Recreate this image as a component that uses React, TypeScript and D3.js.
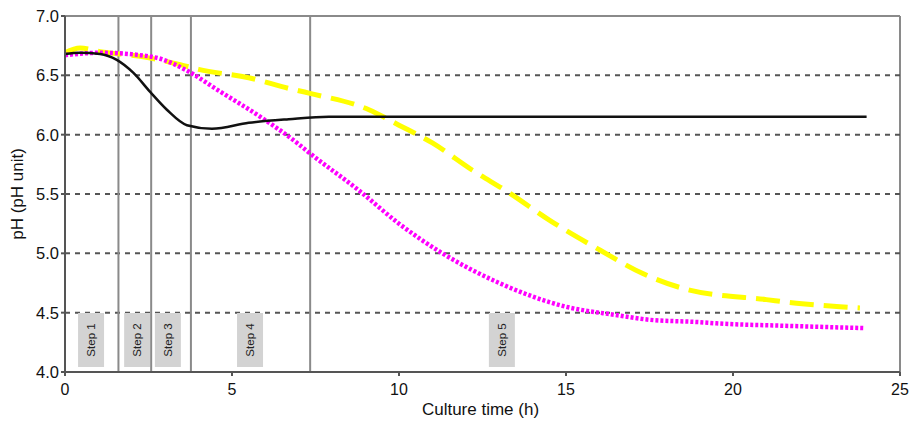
import React from "react";
import * as d3 from "d3";

const blackTime = [0, 0.45, 1.05, 1.55, 2.05, 2.55, 3.05, 3.65, 4.4, 5.5, 6.7, 7.9, 10, 15, 20, 24];
const blackPH = [6.68, 6.69, 6.68, 6.63, 6.52, 6.36, 6.21, 6.08, 6.05, 6.1, 6.13, 6.15, 6.15, 6.15, 6.15, 6.15];

const yellowTime = [0, 0.45, 1.05, 2.25, 3.45, 4.0, 5.5, 6.7, 7.3, 9.1, 10, 11, 12.2, 13.3, 14.5, 16, 17.3, 18.7, 21, 21.9, 23.2, 23.8];
const yellowPH = [6.69, 6.73, 6.7, 6.66, 6.59, 6.55, 6.48, 6.39, 6.35, 6.21, 6.08, 5.93, 5.7, 5.51, 5.28, 5.03, 4.83, 4.69, 4.61, 4.58, 4.55, 4.54];

const magentaTime = [0, 1.05, 2.25, 2.85, 3.65, 4.55, 5.85, 6.95, 7.3, 8.8, 10, 11.3, 13, 15, 16.5, 17.5, 19, 19.5, 21.5, 23.9];
const magentaPH = [6.67, 6.69, 6.67, 6.64, 6.54, 6.38, 6.15, 5.93, 5.85, 5.53, 5.25, 5.0, 4.75, 4.55, 4.48, 4.44, 4.42, 4.41, 4.39, 4.37];

const stepBoundaries = [1.6, 2.58, 3.77, 7.34];
const stepLabels = ["Step 1", "Step 2", "Step 3", "Step 4", "Step 5"];
const stepCenters = [0.78, 2.16, 3.08, 5.54, 13.08];

const xTicks = [0, 5, 10, 15, 20, 25];
const yTicks = [4.0, 4.5, 5.0, 5.5, 6.0, 6.5, 7.0];
const gridTicks = [4.5, 5.0, 5.5, 6.0, 6.5];

const xLabel = "Culture time (h)";
const yLabel = "pH (pH unit)";

const W = 910;
const H = 422;
const left = 65;
const right = 900;
const top = 16;
const bottom = 372;

export default function App() {
  const x = d3.scaleLinear().domain([0, 25]).range([left, right]);
  const y = d3.scaleLinear().domain([4, 7]).range([bottom, top]);
  const mkLine = (ts: number[], vs: number[]) =>
    d3
      .line<number>()
      .x((_, i) => x(ts[i]))
      .y((v) => y(v))
      .curve(d3.curveMonotoneX)(vs) as string;

  const font = "'Liberation Sans', Arial, sans-serif";
  return (
    <svg
      width={W}
      height={H}
      style={{ position: "absolute", left: 0, top: 0, background: "#fff" }}
      fontFamily={font}
    >
      {/* frame */}
      <line x1={left} x2={right} y1={top} y2={top} stroke="#8a8a8a" strokeWidth={2} />
      <line x1={right} x2={right} y1={top} y2={bottom} stroke="#8a8a8a" strokeWidth={2} />
      {/* grid */}
      {gridTicks.map((t) => (
        <line
          key={t}
          x1={left}
          x2={right}
          y1={y(t)}
          y2={y(t)}
          stroke="#555"
          strokeWidth={2}
          strokeDasharray="5 5"
        />
      ))}
      {/* step labels */}
      {stepCenters.map((c, i) => (
        <g key={i}>
          <rect x={x(c) - 13} y={313} width={26} height={54} fill="#d3d3d3" />
          <text
            transform={`translate(${x(c) + 4},${340}) rotate(-90)`}
            textAnchor="middle"
            fontSize={11.5}
            fill="#222"
          >
            {stepLabels[i]}
          </text>
        </g>
      ))}
      {/* step boundaries */}
      {stepBoundaries.map((b) => (
        <line key={b} x1={x(b)} x2={x(b)} y1={top} y2={bottom} stroke="#8a8a8a" strokeWidth={2} />
      ))}
      {/* series */}
      <path d={mkLine(yellowTime, yellowPH)} fill="none" stroke="#ffff00" strokeWidth={5} strokeDasharray="24 10" />
      <path d={mkLine(magentaTime, magentaPH)} fill="none" stroke="#ff00ff" strokeWidth={4.5} strokeDasharray="3 2" />
      <path d={mkLine(blackTime, blackPH)} fill="none" stroke="#111" strokeWidth={2.5} />
      {/* axes */}
      <line x1={left} x2={left} y1={top} y2={bottom} stroke="#555" strokeWidth={2} />
      <line x1={left} x2={right} y1={bottom} y2={bottom} stroke="#555" strokeWidth={2} />
      {yTicks.map((t) => (
        <g key={t}>
          <line x1={left - 4} x2={left} y1={y(t)} y2={y(t)} stroke="#555" strokeWidth={2} />
          <text x={left - 6} y={y(t) + 6} textAnchor="end" fontSize={16.5} fill="#111">
            {t.toFixed(1)}
          </text>
        </g>
      ))}
      {xTicks.map((t) => (
        <g key={t}>
          <line x1={x(t)} x2={x(t)} y1={bottom} y2={bottom + 4} stroke="#555" strokeWidth={2} />
          <text x={x(t)} y={bottom + 23} textAnchor="middle" fontSize={16} fill="#111">
            {t}
          </text>
        </g>
      ))}
      <text x={(left + right) / 2 - 2} y={H - 7} textAnchor="middle" fontSize={17} fill="#111">
        {xLabel}
      </text>
      <text
        transform={`translate(${23},${(top + bottom) / 2}) rotate(-90)`}
        textAnchor="middle"
        fontSize={17}
        fill="#111"
      >
        {yLabel}
      </text>
    </svg>
  );
}
